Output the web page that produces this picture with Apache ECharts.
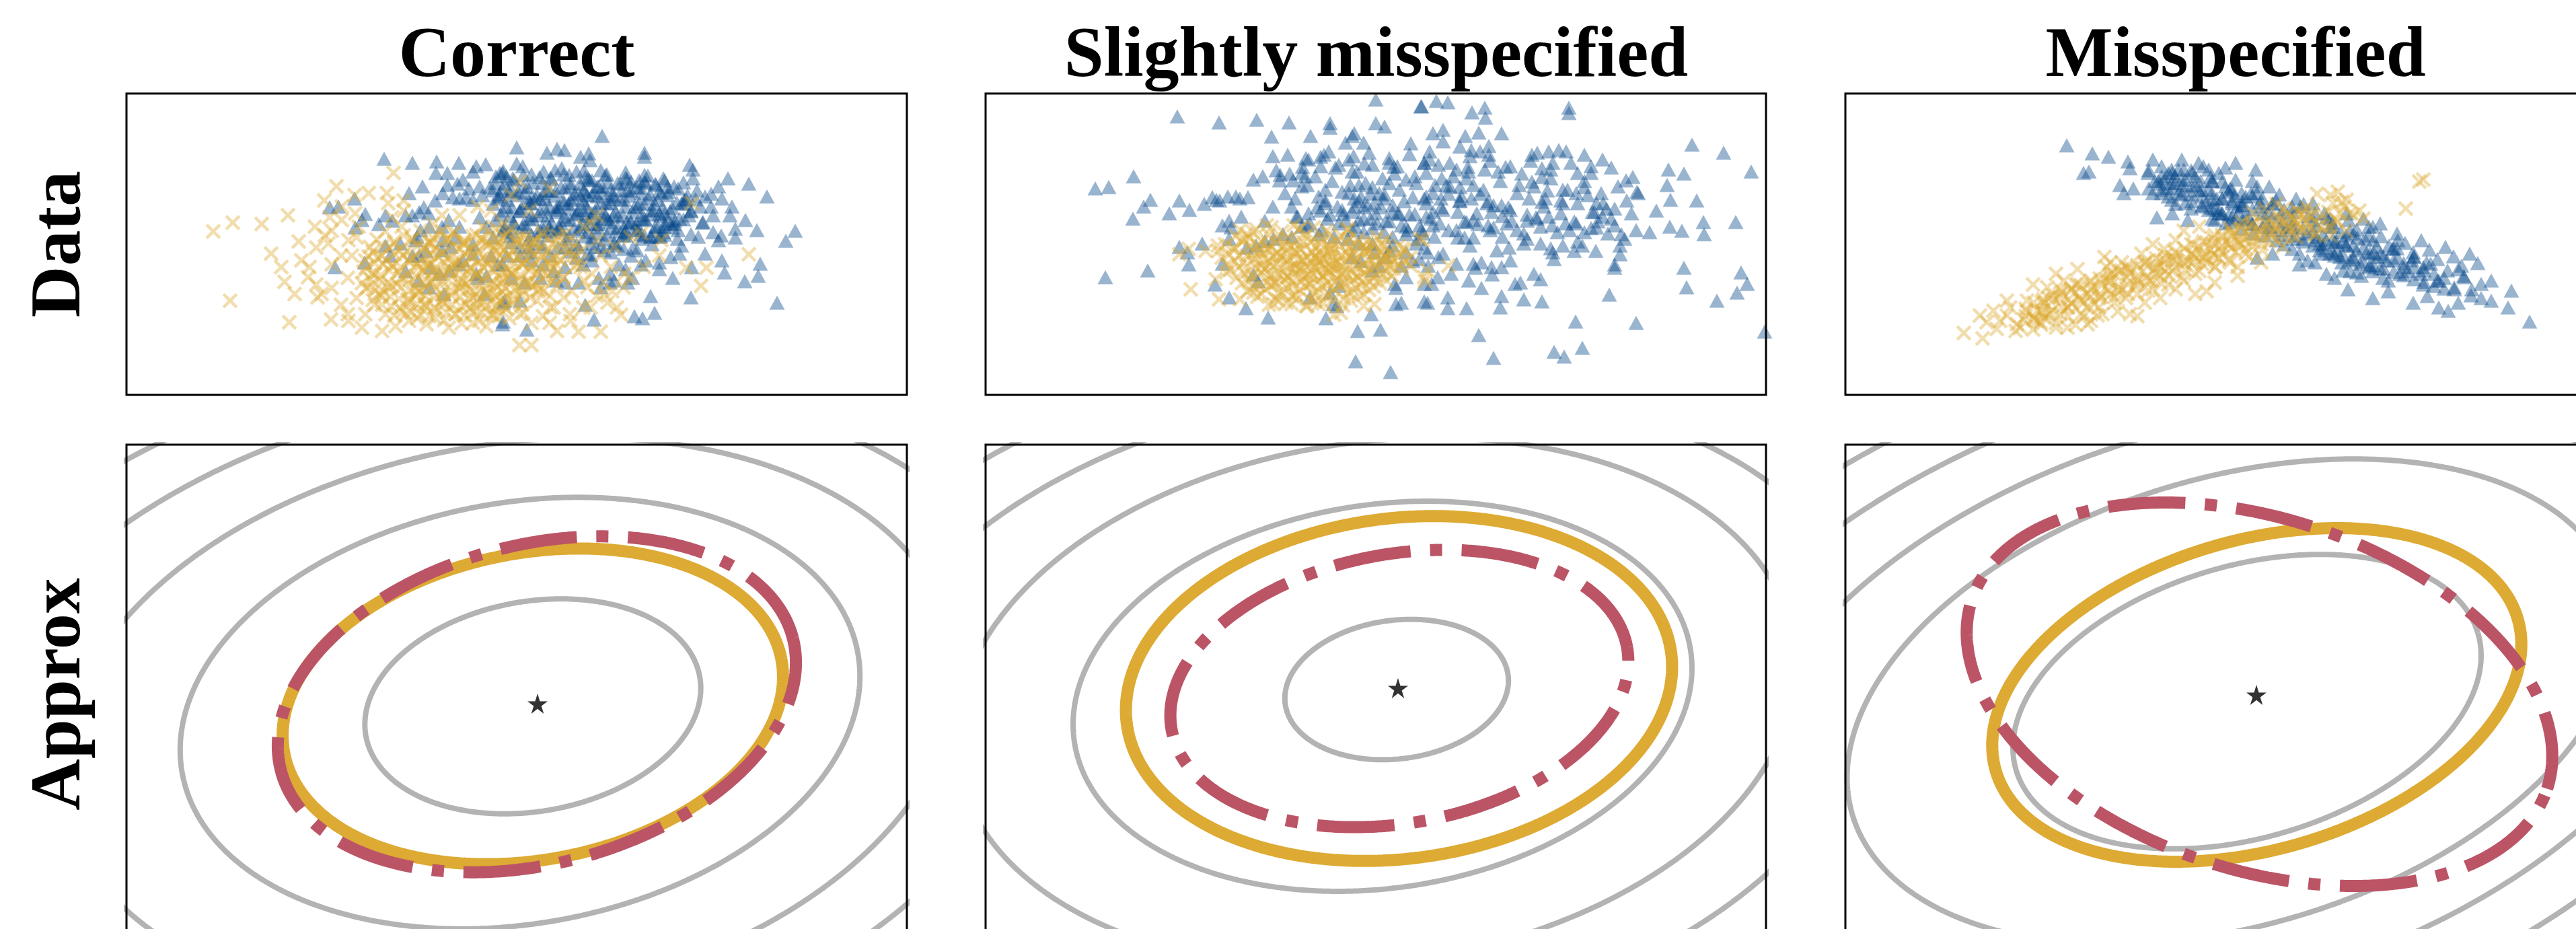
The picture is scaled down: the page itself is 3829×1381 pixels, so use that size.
<!DOCTYPE html>
<html><head><meta charset="utf-8">
<script src="https://cdn.jsdelivr.net/npm/echarts@6/dist/echarts.min.js"></script>
<style>html,body{margin:0;padding:0;background:#fff}#c{width:3829px;height:1381px}</style>
</head><body><div id="c"></div>
<script>
// ---------------- text ----------------
const columnTitles = ['Correct', 'Slightly misspecified', 'Misspecified'];
const rowTitles = ['Data', 'Approx'];

// ---------------- top row: data scatter (x, y in panel units) ----------------
const correctBlue = [
[383,351],[425,345],[461,347],[494,345],[515,332],[534,343],[477,330],[492,314],[477,312],[555,330],[549,325],[509,307],[525,310],[485,294],[495,292],[515,290],[459,289],[442,279],[435,272],[425,267],[415,267],[449,270],[479,260],[495,250],[469,250],[437,245],[432,235],[430,230],[505,294],[529,297],[545,304],[555,295],[339,292],[302,279],[315,280],[355,269],[350,260],[340,249],[385,267],[375,254],[395,259],[385,222],[392,207],[407,225],[425,207],[435,207],[415,184],[434,170],[452,189],[465,180],[450,160],[472,150],[494,194],[515,224],[525,264],[535,250],[545,234],[535,177],[522,174],[552,194],[532,150],[560,137],[559,105],[310,190],[354,197],[445,214],[469,215],[482,220],[489,234],[515,210],[542,207],
[707,385],[580,368],[625,360],[640,366],[651,364],[675,354],[687,359],[689,349],[580,344],[589,340],[705,334],[770,360],[770,354],[837,342],[842,335],[842,322],[894,322],[925,314],[952,295],[559,330],[565,325],[614,324],[637,334],[647,337],[669,332],[682,324],[692,319],[734,314],[750,317],[762,319],[770,317],[787,312],[804,309],[795,300],[829,290],[829,284],[839,274],[869,299],[885,292],[869,280],[872,267],[897,267],[857,257],[872,242],[884,237],[850,235],[839,239],[905,247],[905,234],[937,245],[980,229],[994,244],[785,284],[792,269],[805,259],[815,259],[799,250],[765,267],[749,257],[759,245],[739,250],[725,295],[709,300],[672,300],[685,297],[649,290],[629,304],[615,292],[592,300],[602,294],[572,304],[559,307],[565,280],[585,274],[602,267],[622,277],[639,275],[659,277],[679,275],[692,270],[712,267],[719,257],[699,254],[679,254],[665,247],[645,247],[629,250],[612,244],[595,250],[575,257],[562,247],[742,237],[765,239],[779,235],[792,235],[819,232],[825,222],[822,210],[809,205],[792,197],[772,200],[759,215],[739,217],[725,227],[705,220],[685,210],[669,204],[679,194],[692,200],[652,190],[635,184],[619,194],[602,200],[585,207],[565,207],[559,194],[572,174],[592,167],[615,174],[639,170],[652,167],[672,167],[702,174],[719,180],[732,194],[742,187],[752,174],[745,167],[719,167],[705,160],[792,187],[812,174],[779,147],[839,145],[885,200],[889,182],[919,169],[939,177],[942,195],[967,137],[785,122],[755,117],[767,114],[682,134],[695,112],[595,97],[560,109],[562,140],[585,140],[725,170],[765,194],[692,234],[672,220],[652,220],[619,220],[599,220],[572,227],
[640,280],[660,290],[680,285],[700,295],[720,285],[740,290],[760,280],[780,275],[800,270],[650,265],[670,270],[690,262],[710,270],[730,265],[750,258],[770,262],[790,250],[810,255],[700,310],[720,305],[680,305],[660,310],[745,305],[765,300],[625,255],[640,245],[700,240],[720,248],[740,240],[760,245],[780,235],[800,238],[820,245],[690,225],[710,215],[730,222],[620,300],[600,285],
[560,333],[590,327],[620,332],[650,328],[680,334],[712,327],[742,331],[775,326],
[548,315],[576,320],[604,316],[632,321],[660,315],[688,320],[716,316],[744,321],[772,315],[800,319],[828,316],
[540,308],[568,303],[596,309],[624,304],[652,308],[680,303],[708,309],[736,304],[764,308],[792,303],[820,307],[848,304],
[552,292],[580,297],[608,291],[636,296],[664,292],[692,297],[720,291],[748,296],[776,292],[804,297],[832,291],[860,295],
[545,284],[573,279],[601,285],[629,280],[657,284],[685,279],[713,285],[741,280],[769,284],[797,279],[825,285],[853,280],
[556,268],[584,273],[612,267],[640,272],[668,268],[696,273],[724,267],[752,272],[780,268],[808,273],[836,267],
[548,260],[576,255],[604,261],[632,256],[660,260],[688,255],[716,261],[744,256],[772,260],[800,255],[828,261],[856,256],
[560,244],[588,249],[616,243],[644,248],[672,244],[700,249],[728,243],[756,248],[784,244],[812,249],
[570,236],[598,231],[626,237],[654,232],[682,236],[710,231],[738,237],[766,232],[794,236],
[585,220],[613,225],[641,219],[669,224],[697,220],[725,225],[753,219],[781,224],
[600,212],[630,207],[660,213],[690,208],[720,212],[750,207],
[470,300],[500,320],[520,340],[460,330],[440,310],[420,300],[880,310],[900,280],[920,260],[880,230],[860,210],[840,190],[500,200],[480,185],[520,180],[470,230],[450,250],
[574,322],[602,328],[630,323],[658,327],[686,322],[714,328],[742,323],[770,327],[798,322],
[562,314],[590,310],[618,315],[646,309],[674,314],[702,310],[730,315],[758,309],[786,314],[814,310],
[554,298],[582,302],[610,297],[638,303],[666,298],[694,302],[722,297],[750,303],[778,298],[806,302],[834,297],
[566,290],[594,286],[622,291],[650,285],[678,290],[706,286],[734,291],[762,285],[790,290],[818,286],[846,291],
[559,274],[587,278],[615,273],[643,279],[671,274],[699,278],[727,273],[755,279],[783,274],[811,278],[839,273],
[570,266],[598,262],[626,267],[654,261],[682,266],[710,262],[738,267],[766,261],[794,266],[822,262],
[562,250],[590,254],[618,249],[646,255],[674,250],[702,254],[730,249],[758,255],[786,250],[814,254],
[574,242],[602,238],[630,243],[658,237],[686,242],[714,238],[742,243],[770,237],[798,242]
];
const correctGold = [
[129,243],[158,256],[201,254],[240,267],[235,168],[154,140],[242,108],[256,228],[272,190],[282,219],[295,237],[305,244],[312,310],[294,289],[302,264],[339,297],[340,270],[397,330],[387,300],[389,285],[412,289],[412,274],[395,264],[409,250],[282,164],[284,145],[305,159],[319,134],[304,112],[329,120],[342,144],[359,160],[369,180],[355,200],[335,207],[319,207],[305,194],[342,234],[362,220],[379,207],[395,194],[409,174],[389,160],[375,150],[369,134],[385,120],[400,102],[415,120],[422,140],[435,154],[449,167],[462,180],[452,194],[435,190],[419,200],[442,220],[455,234],[469,244],[485,240],[502,230],[519,220],[535,227],[549,214],[535,200],[512,190],[495,200],[482,187],[499,167],[515,154],[532,140],[505,134],[489,120],[479,100],[459,114],[469,140],[442,134],[432,114],[515,107],[535,102],[545,120],[552,147],[555,174],[549,247],[529,250],[522,280],[542,274],[469,267],[455,254],[495,267],[329,174],[355,120],
[585,317],[629,307],[572,297],[599,274],[559,254],[572,247],[585,234],[602,227],[619,237],[639,230],[652,240],[669,227],[692,254],[699,267],[725,220],[705,207],[749,234],[765,240],[795,230],[769,190],[792,207],[832,189],[862,189],[854,162],[925,209],[840,285],[555,220],[569,207],[589,194],[609,200],[629,194],[645,200],[662,207],[675,190],[692,180],[709,167],[722,154],[739,160],[749,174],[572,180],[592,167],[612,154],[629,147],[635,130],[619,117],[602,107],[585,120],[569,114],[659,120],[679,130],[672,94],[705,94],[729,130],[735,119],[584,74],[602,74],[629,107],[649,174],[662,154],[559,154],[552,134],[685,160],[699,147],[715,137],
[450,200],[470,210],[490,195],[510,205],[530,190],[550,200],[570,185],[590,195],[610,180],[630,190],[650,175],[460,175],[480,185],[500,170],[520,178],[540,165],[560,172],[580,160],[600,168],[620,155],[640,162],[470,150],[495,158],[515,145],[535,152],[555,140],[575,148],[440,185],[430,160],[445,135],[600,215],[620,225],[580,228],[560,235],[540,225],[520,238],[500,225],[480,230],[660,215],[670,195],[680,170],[455,225],[610,140],[630,130],[650,145],[520,125],[545,118],[565,128],[590,122],
[385,243],[412,237],[437,244],[463,238],[488,242],[514,236],[538,244],[566,239],[592,235],[618,242],[641,237],
[372,231],[398,225],[425,230],[451,226],[477,232],[503,224],[529,229],[554,233],[581,226],[607,230],[633,224],[657,229],
[366,213],[391,219],[417,214],[444,218],[469,212],[495,217],[522,213],[547,219],[573,214],[599,218],[626,212],[651,217],[676,214],
[360,206],[386,201],[411,207],[437,202],[463,206],[489,200],[515,205],[541,201],[567,207],[592,202],[618,206],[644,201],[669,205],
[356,189],[382,194],[408,190],[433,195],[459,189],[485,193],[511,188],[537,194],[563,190],[588,195],[614,189],[640,193],[666,190],
[352,183],[378,178],[404,182],[430,177],[456,183],[481,179],[507,184],[533,177],[559,182],[585,178],[611,183],[636,177],
[350,166],[376,171],[402,165],[428,170],[454,167],[479,171],[505,165],[531,170],[557,166],[583,171],[609,165],[634,169],
[356,158],[382,153],[408,159],[433,154],[459,158],[485,153],[511,157],[537,152],[563,158],[589,154],[614,157],
[366,141],[392,146],[418,142],[444,147],[470,141],[496,146],[522,142],[548,147],[574,141],[600,145],
[380,134],[406,129],[432,135],[458,130],[484,134],[510,129],[536,133],[562,130],[588,134],
[398,118],[424,123],[450,117],[476,122],[502,118],[528,123],[554,117],
[420,110],[446,105],[472,111],[498,106],[524,110],
[280,250],[300,225],[320,260],[260,200],[270,175],[290,150],[320,280],[345,250],[330,230],[360,300],[250,150],[230,190],[215,210],[680,250],[700,230],[720,190],[710,150],[690,130],[740,180],[660,110],[640,95],[380,95],[350,100],[330,110],
[398,228],[424,233],[450,227],[476,232],[502,228],[528,233],[554,227],[580,232],[606,228],
[380,220],[406,215],[432,221],[458,216],[484,220],[510,215],[536,221],[562,216],[588,220],[614,215],[640,221],
[373,204],[399,209],[425,203],[451,208],[477,204],[503,209],[529,203],[555,208],[581,204],[607,209],[633,203],
[369,196],[395,191],[421,197],[447,192],[473,196],[499,191],[525,197],[551,192],[577,196],[603,191],[629,197],
[365,180],[391,185],[417,179],[443,184],[469,180],[495,185],[521,179],[547,184],[573,180],[599,185],[625,179],
[363,172],[389,167],[415,173],[441,168],[467,172],[493,167],[519,173],[545,168],[571,172],[597,167],[623,173],
[369,156],[395,161],[421,155],[447,160],[473,156],[499,161],[525,155],[551,160],[577,156],[603,161],
[379,148],[405,143],[431,149],[457,144],[483,148],[509,143],[535,149],[561,144],[587,148],
[393,132],[419,137],[445,131],[471,136],[497,132],[523,137],[549,131],[575,136],
[411,124],[437,119],[463,125],[489,120],[515,124],[541,119]
];
const slightBlue = [
[285,414],[347,405],[403,409],[451,405],[580,439],[647,429],[512,404],[512,397],[425,384],[483,385],[545,385],[548,389],[535,375],[562,375],[580,404],[593,399],[632,374],[427,355],[449,357],[476,352],[498,354],[503,357],[525,342],[498,340],[471,339],[547,355],[563,344],[575,342],[600,352],[607,339],[608,329],[652,345],[545,332],[552,332],[625,320],[638,325],[432,334],[438,327],[452,329],[457,319],[437,319],[412,325],[398,320],[475,325],[478,312],[542,312],[555,312],[575,309],[600,315],[530,302],[495,295],[505,289],[493,279],[498,274],[523,280],[548,292],[558,295],[572,299],[585,300],[592,292],[635,294],[652,292],[532,269],[545,272],[562,279],[568,282],[578,285],[588,279],[605,272],[615,269],[638,269],[508,262],[535,259],[555,260],[572,262],[582,255],[595,259],[618,252],[628,245],[645,252],[545,245],[562,242],[592,242],[605,235],[625,239],[642,232],[555,225],[575,225],[605,222],[538,232],[518,235],[495,239],[478,252],[462,265],[455,235],[442,239],[428,232],[415,229],[402,222],[388,219],[372,295],[360,295],[378,292],[390,294],[337,294],[348,289],[325,284],[343,290],[288,289],[303,275],[273,270],[245,290],[235,280],[220,325],[219,262],[183,309],[163,307],[427,280],[380,265],[415,259],[362,259],[352,252],[365,249],[362,232],[464,265],[482,255],[288,220],[300,212],[322,225],[302,194],[352,195],[241,185],[178,175],[341,164],[362,145],[387,129],[420,115],[506,114],[553,95],[587,97],[573,120],[610,135],[618,137],[610,159],[608,165],[625,175],[635,199],[645,202],[595,205],[585,192],[575,185],[618,192],[550,50],[602,34],[517,135],[522,132],[482,145],[512,152],[525,162],[398,179],[405,169],[545,205],[558,199],[578,212],[625,212],[652,139],[652,165],
[648,429],[670,437],[687,435],[723,420],[742,427],[743,412],[867,427],[867,419],[665,389],[680,394],[680,377],[713,385],[733,390],[705,369],[722,364],[735,362],[748,370],[748,357],[767,389],[660,362],[652,345],[673,342],[717,339],[742,335],[718,332],[773,339],[797,329],[812,357],[837,362],[852,364],[863,362],[890,357],[917,350],[900,340],[843,345],[827,337],[812,317],[827,324],[835,304],[808,292],[827,287],[858,305],[858,285],[855,289],[890,309],[895,297],[908,285],[902,272],[917,265],[923,277],[935,277],[935,252],[945,239],[950,232],[943,222],[943,209],[935,194],[935,189],[952,319],[962,324],[968,302],[970,300],[953,289],[997,274],[967,245],[987,242],[1015,335],[1038,329],[1013,312],[1018,290],[1050,372],[1097,360],[1138,332],[1057,289],[1067,257],[1068,239],[1115,257],[1017,250],[1035,244],[1038,189],[1042,160],[1123,182],[1132,165],[1117,152],[1087,140],[927,149],[877,109],[967,107],[887,70],[845,64],[860,57],[755,55],[733,89],[765,130],[715,129],[687,129],[687,145],[657,137],[718,170],[737,159],[767,147],[800,142],[827,139],[825,172],[815,180],[795,167],[787,165],[753,179],[752,190],[767,190],[737,197],[725,195],[728,189],[692,180],[672,175],[663,165],[658,192],[673,205],[657,212],[652,219],[667,235],[688,245],[702,234],[712,234],[725,234],[732,254],[715,257],[747,252],[755,249],[768,235],[778,219],[790,245],[805,232],[825,225],[843,212],[845,202],[858,222],[875,214],[887,222],[907,214],[862,255],[878,255],[890,242],[908,249],[842,252],[818,264],[837,265],[805,259],[782,259],[777,279],[767,282],[745,285],[752,272],[735,299],[722,292],[705,289],[702,272],[688,299],[677,292],[685,312],[678,322],[695,325],[705,309],[725,312],[655,295],[655,265],[665,272],[665,252],[648,245],[677,279],[1158,94],
[445,300],[470,310],[490,325],[515,318],[540,300],[565,315],[590,322],[615,305],[640,315],[665,300],[690,310],[715,322],[740,305],[765,318],[790,300],[815,310],[840,322],[865,305],[890,318],[915,300],[940,310],
[455,280],[480,270],[505,285],[530,275],[555,288],[580,270],[605,282],[630,268],[655,285],[680,275],[705,288],[730,270],[755,282],[780,275],[805,268],[830,280],[855,270],[880,285],[905,272],[930,262],[960,270],
[470,250],[500,245],[525,255],[550,250],[575,248],[600,258],[625,250],[650,240],[675,255],[700,245],[725,260],[750,245],[775,255],[800,240],[825,250],[850,242],[875,258],[900,248],[925,240],
[480,350],[510,362],[540,350],[570,360],[600,345],[630,358],[660,350],[690,345],[720,355],[750,348],[780,340],[810,348],[840,335],[870,345],[900,330],[930,338],
[600,215],[640,225],[680,210],[720,222],[760,215],[800,225],[840,218],[880,228],[700,195],[780,200],
[460,292],[505,305],[548,280],[593,298],[622,288],[668,312],[707,296],[748,288],[793,312],[832,292],[878,300],[918,285],[470,330],[520,338],[612,340],[655,330],[700,335],[762,332],[820,360],[880,330],[512,268],[562,262],[613,270],[662,262],[712,258],[768,266],[820,262],[868,245],[910,258]
];
const slightGold = [
[288,209],[302,217],[327,214],[345,222],[305,157],[347,142],[342,172],[358,182],[378,245],[388,239],[398,242],[418,252],[425,249],[458,252],[465,245],[488,249],[512,239],[538,245],[575,219],[592,199],[612,205],[632,192],[652,175],[645,232],[578,135],[562,132],[528,122],[518,119],[428,135],[455,135],[478,132],[495,135],[378,142],[398,152],[650,230],[688,192],[657,185],[653,169],
[402,246],[441,243],[468,248],[507,244],[538,247],
[372,236],[393,233],[421,238],[447,232],[476,237],[499,233],[529,236],[553,231],[582,235],
[356,224],[381,228],[404,222],[432,226],[454,221],[483,227],[509,222],[536,226],[561,221],[589,225],[614,222],
[346,214],[371,217],[399,212],[421,216],[448,211],[469,216],[496,213],[519,217],[547,212],[570,215],[599,211],[624,216],
[351,204],[377,207],[400,202],[427,206],[451,201],[479,205],[502,202],[529,207],[552,203],[581,206],[605,201],[631,204],
[359,194],[383,197],[410,192],[433,196],[461,193],[484,197],[512,192],[535,196],[563,193],[587,197],[615,193],
[364,186],[391,183],[415,187],[442,182],[466,186],[493,183],[517,187],[544,182],[568,186],[596,183],[619,187],
[373,174],[397,177],[424,172],[448,176],[473,173],[501,177],[524,172],[552,176],[576,173],[604,177],
[381,166],[405,163],[432,167],[456,162],[483,166],[507,163],[534,167],[558,162],[586,166],
[389,154],[416,157],[440,152],[467,156],[491,153],[518,157],[542,152],[570,156],
[404,146],[431,143],[455,147],[482,142],[506,146],[533,143],[556,147],
[421,134],[447,137],[476,132],[502,136],[531,133],
[470,200],[490,190],[510,185],[480,178],[500,208],[520,195],[460,188],[530,180],[495,198],[515,205],
[385,231],[410,228],[435,232],[462,229],[488,231],[515,227],[541,232],[567,228],[595,231],
[368,219],[393,221],[418,217],[443,220],[466,218],[491,221],[514,217],[541,220],[566,218],[592,221],[620,218],
[362,209],[388,207],[413,210],[438,208],[463,211],[490,207],[515,210],[540,208],[566,211],[593,207],[618,209],
[370,199],[396,201],[421,198],[447,200],[472,199],[497,201],[523,198],[548,200],[575,199],[600,201],[625,198],
[377,190],[403,188],[428,191],[454,189],[479,190],[505,188],[530,191],[556,189],[581,190],[607,188],
[385,180],[410,182],[436,179],[461,181],[487,180],[512,182],[538,179],[563,181],[590,180],
[392,170],[418,168],[444,171],[469,169],[495,170],[520,168],[546,171],[571,169],[596,170],
[398,160],[424,162],[449,159],[475,161],[500,160],[526,162],[551,159],[577,161],
[410,150],[436,152],[461,149],[487,151],[512,150],[538,152],[562,149],
[436,140],[462,142],[490,139],[516,141],[543,140],
[420,226],[446,223],[472,227],[498,224],[524,228],[550,223],[576,226],
[407,214],[433,211],[459,215],[485,212],[511,216],[537,211],[563,214],[589,212],
[412,202],[438,205],[464,201],[490,204],[516,200],[542,205],[568,201],[594,204],
[418,190],[444,193],[470,189],[496,192],[522,188],[548,193],[574,189],[600,192],
[424,178],[450,175],[476,179],[502,176],[528,180],[554,175],[580,178],
[430,166],[456,169],[482,165],[508,168],[534,164],[560,169]
];
const misBlue = [
[329,371],[367,359],[391,354],[420,347],[423,337],[457,350],[451,334],[354,330],[362,332],[408,312],[414,300],[428,307],[451,307],[468,314],[486,330],[503,335],[514,334],[532,340],[457,300],[486,307],[503,304],[526,304],[543,324],[560,317],[572,307],[589,300],[612,310],[612,300],[491,284],[514,277],[486,270],[463,264],[509,260],[537,287],[549,277],[560,270],[583,280],[595,264],[549,260],[572,257],[618,280],[635,284],[647,270],[664,280],[681,284],[698,270],[715,264],[721,250],[750,244],[744,224],[761,234],[778,250],[778,237],[790,220],[796,210],[821,230],[813,217],[821,204],[842,200],[864,197],[859,190],[836,184],[824,180],[807,170],[799,174],[784,184],[778,190],[767,177],[750,184],[738,197],[727,207],[710,210],[698,197],[715,180],[727,174],[687,200],[675,210],[664,217],[652,224],[641,230],[624,237],[606,240],[589,247],[669,237],[687,240],[698,230],[710,224],[727,227],[744,237],[911,187],[919,177],[882,170],[859,164],[747,157],[784,144],[807,154],[844,137],[865,147],[882,130],[896,125],[911,137],[905,157],[931,157],[945,144],[1017,109],[675,194],[635,210],[612,204],[664,250],[647,250],[624,257],
[460,318],[475,322],[490,315],[505,320],[470,305],[495,300],[480,330],[520,312],
[530,295],[545,290],[560,292],[575,285],[590,288],[540,275],[555,270],[570,268],[585,272],[600,262],[545,262],[565,255],
[700,235],[715,230],[730,228],[745,222],[760,215],[775,212],[790,205],[705,215],[720,210],[735,205],[750,200],[765,195],[780,192],[795,188],[740,185],[760,182],
[450,330],[465,318],[478,308],[490,325],[502,312],[515,298],[528,318],[540,305],[552,292],[565,310],[578,296],[590,282],[603,300],[616,286],[628,272],[640,290],[652,276],[664,262],[676,280],[688,266],[700,252],[712,270],[724,256],[736,242],[748,260],[760,246],[772,232],[784,250],[796,236],[808,222],[820,240],[832,226],[844,212],[856,230],[868,216],[880,202],[892,220],[904,206],[916,192],[928,210],[940,196],
[470,340],[495,335],[520,325],[545,318],[570,302],[595,295],[620,292],[645,298],[670,292],[695,285],[720,262],[745,270],[770,262],[795,255],[820,218],[845,205],[870,195],[895,185],[920,175],[945,165],
[480,295],[505,285],[530,280],[555,275],[580,262],[605,255],[630,250],[655,245],[680,232],[705,225],[730,215],[755,205],[780,210],[805,200],[830,190],[855,180],[880,170],[905,160],[930,148],[960,140],[985,130],[960,170],[990,155],
[555,330],[580,320],[605,318],[630,310],[580,345],[610,335],[500,350],[525,345],[540,335],[565,338],
[470,325],[470,300],[485,315],[485,290],[485,335],[500,320],[500,298],[515,310],[515,288],[515,330],[530,305],[530,282],[545,300],[545,278],[545,318],[560,292],[560,270],[575,288],[575,265],[575,305],[590,282],[590,260],[605,276],[605,254],[605,295],[620,270],[620,250],[635,265],[635,245],[635,285],[650,258],[650,238],[665,254],[665,232],[665,272],[680,248],[680,228],[695,243],[695,222],[695,260],[710,238],[710,218],[725,232],[725,212],[725,250],[740,228],[740,208],[755,222],[755,202],[755,240],[770,218],[770,198],[785,212],[785,193],[785,230],[800,206],[800,188],[815,200],[815,183],[815,218],[830,196],[830,178],[845,190],[845,172],[845,206],[860,185],[860,168],[875,180],[875,162],[890,174],[890,158]
];
const misGold = [
[176,92],[204,84],[253,95],[279,164],[313,180],[345,187],[385,205],[394,197],[270,124],[285,110],[313,107],[296,137],[319,150],[331,130],[348,144],[365,157],[382,164],[400,180],[417,190],[440,210],[457,224],[474,217],[491,230],[503,244],[526,250],[549,237],[572,247],[589,257],[606,270],[623,277],[641,284],[652,277],[664,264],[681,270],[698,257],[715,250],[732,257],[750,270],[764,274],[738,287],[721,297],[701,299],[732,302],[833,277],[859,320],[853,317],[291,124],[336,137],[359,130],[377,144],[394,150],[411,157],[434,164],[451,170],[468,177],[486,184],[503,197],[520,204],[537,210],[555,217],[572,224],[583,230],[600,237],[618,244],[635,250],[652,257],[669,250],[687,244],[698,237],[721,237],[744,244],[664,237],[641,230],[618,224],[595,210],[572,197],[549,190],[526,184],[503,170],[480,164],[457,157],[434,150],[417,144],[400,137],[377,130],[354,117],[331,117],[302,120],[268,117],[423,120],[434,117],[520,150],[537,154],[549,167],[583,177],[423,180],[445,197],[463,190],[486,200],[514,224],[537,227],[560,234],[578,240],[606,254],[595,217],[618,197],[583,190],[394,170],[365,170],[342,164],[319,157],[302,144],[468,200],[411,197],[388,190],[514,210],[537,197],[555,204],[491,157],[468,144],[445,137],[405,124],[382,120],[365,110],[342,104],[291,104],[279,97],[313,100],
[210,108],[225,98],[240,118],[255,105],[268,128],[280,112],[292,138],[305,122],[318,145],[330,130],[342,152],[355,138],[368,160],[380,146],[392,168],[405,155],[418,175],[430,162],[442,184],[455,170],[468,192],[480,178],[492,200],[505,186],[518,208],[530,195],[542,216],[555,203],[568,224],[580,212],[592,232],[605,220],[618,240],[630,228],[642,250],[655,236],[668,258],[680,245],[692,266],[705,252],[718,272],[730,260],[742,280],[755,268],
[220,125],[245,130],[270,140],[295,115],[320,120],[345,165],[370,135],[395,180],[420,150],[445,195],[470,165],[495,210],[520,180],[545,225],[570,200],[595,245],[620,215],[645,260],[670,235],[695,275],[720,250],[745,290],[770,262],
[260,100],[285,125],[310,142],[335,155],[360,150],[385,172],[410,185],[435,172],[460,188],[485,205],[510,200],[535,205],[560,222],[585,225],[610,238],[635,242],[660,252],[685,255],[710,268],[735,270],
[300,160],[325,170],[350,120],[375,118],[400,145],[425,188],[450,155],[475,200],[500,175],[525,220],[550,190],[575,238],[600,205],[625,255],[650,220],[675,270],[700,240],[725,285],
[200,118],[230,110],[265,112],[290,108],[240,140],[330,100],[360,105],
[280,115],[280,137],[294,121],[294,142],[308,126],[308,148],[322,131],[322,153],[336,136],[336,158],[350,140],[350,163],[364,146],[364,168],[378,150],[378,173],[392,156],[392,178],[406,160],[406,183],[420,164],[420,188],[434,170],[434,193],[448,174],[448,198],[462,180],[462,203],[476,184],[476,208],[490,190],[490,212],[504,194],[504,218],[518,198],[518,223],[532,204],[532,228],[546,208],[546,233],[560,214],[560,238],[574,218],[574,242],[588,224],[588,248],[602,228],[602,252],[616,234],[616,256],[630,238],[630,260],[644,244],[644,266],[658,248],[658,270],[672,254],[672,274],[686,258],[686,278]
];

// ---------------- bottom row: ellipses [cx, cy, semi-major, semi-minor, angle in degrees] ----------------
const correctContours = [[604,353,252,156,10],[585,343,510,313,10],[568,329,672,413,10],[547,317,810,498,10],[527,303,930,572,10]];
const correctGoldEllipse = [604,353,376,228,10.65];
const correctRedEllipse = [610,356,393,237,14.5];
const slightContours = [[611,378,167,103,7.3],[590,368,463,285,8.4],[580,359,628,387,8],[558,344,768,474,8],[540,333,886,547,8]];
const slightGoldEllipse = [614.5,379.5,408,253,7.4];
const slightRedEllipse = [615,379.5,344,200,10.25];
const misContours = [[597,360,358,202,16.55],[576,360,590,333,16.55],[560,353,737,416,16.55],[540,343,872,492,16.55],[520,333,988,557,16.55]];
const misGoldEllipse = [611.5,370,404,230,16.2];
const misRedEllipse = [615.5,371,450,261,-18.2];
const starPoints = [[611,357],[613,380],[611,370]];

// ---------------- build ----------------
const BLUE = '#004488', GOLD = '#DDAA33', RED = '#BB5566', GRAY = '#b3b3b3';
const xPath = 'path://M0,1.4L1.4,0L5,3.6L8.6,0L10,1.4L6.4,5L10,8.6L8.6,10L5,6.4L1.4,10L0,8.6L3.6,5Z';
const starPath = 'path://M50,0L61.2,34.6L97.6,34.5L68.1,55.9L79.4,90.5L50,69L20.6,90.5L31.9,55.9L2.4,34.5L38.8,34.6Z';

function ellipsePts(p) {
  const [cx, cy, a, b, deg] = p;
  const t = deg * Math.PI / 180, c = Math.cos(t), s = Math.sin(t);
  const pts = [];
  for (let i = 0; i <= 720; i++) {
    const u = i * Math.PI / 360;
    const x = a * Math.cos(u), y = b * Math.sin(u);
    pts.push([cx + x * c - y * s, cy + x * s + y * c]);
  }
  return pts;
}

const lefts = [188, 1465, 2743];
const grids = [], xAxes = [], yAxes = [], series = [];
for (let r = 0; r < 2; r++) {
  for (let k = 0; k < 3; k++) {
    const gi = r * 3 + k;
    grids.push({ left: lefts[k], top: r === 0 ? 139 : 661, width: 1160, height: r === 0 ? 448 : 742,
      outerBoundsMode: 'none', containLabel: false,
      show: true, borderColor: '#000', borderWidth: 3, backgroundColor: 'transparent', z: 10 });
    xAxes.push({ gridIndex: gi, type: 'value', min: 0, max: 1160, show: false });
    yAxes.push({ gridIndex: gi, type: 'value', min: 0, max: r === 0 ? 448 : 742, show: false });
  }
}
const blueSets = [correctBlue, slightBlue, misBlue];
const goldSets = [correctGold, slightGold, misGold];
for (let k = 0; k < 3; k++) {
  series.push({ type: 'scatter', xAxisIndex: k, yAxisIndex: k, data: blueSets[k], symbol: 'triangle', symbolSize: [23, 21],
    itemStyle: { color: BLUE, opacity: 0.4 }, silent: true, z: 2 });
  series.push({ type: 'scatter', xAxisIndex: k, yAxisIndex: k, data: goldSets[k], symbol: xPath, symbolSize: 23,
    itemStyle: { color: GOLD, opacity: 0.4 }, silent: true, z: 3 });
}
const contourSets = [correctContours, slightContours, misContours];
const goldEll = [correctGoldEllipse, slightGoldEllipse, misGoldEllipse];
const redEll = [correctRedEllipse, slightRedEllipse, misRedEllipse];
for (let k = 0; k < 3; k++) {
  const gi = 3 + k;
  contourSets[k].forEach(p => series.push({ type: 'line', xAxisIndex: gi, yAxisIndex: gi, data: ellipsePts(p),
    showSymbol: false, symbol: 'none', lineStyle: { color: GRAY, width: 8 }, silent: true, z: 2, clip: true }));
  series.push({ type: 'line', xAxisIndex: gi, yAxisIndex: gi, data: ellipsePts(goldEll[k]), showSymbol: false, symbol: 'none',
    lineStyle: { color: GOLD, width: 18 }, silent: true, z: 3, clip: true });
  series.push({ type: 'line', xAxisIndex: gi, yAxisIndex: gi, data: ellipsePts(redEll[k]), showSymbol: false, symbol: 'none',
    lineStyle: { color: RED, width: 18, type: [115, 29, 18, 29], cap: 'butt' }, silent: true, z: 4, clip: true });
  series.push({ type: 'scatter', xAxisIndex: gi, yAxisIndex: gi, data: [starPoints[k]], symbol: starPath, symbolSize: 30,
    itemStyle: { color: '#000' }, silent: true, z: 5 });
}

const font = { fontFamily: '"Liberation Serif", "DejaVu Serif", serif', fontWeight: 'bold', fontSize: 106, fill: '#000' };
const graphic = [];
const centers = [768, 2045.5, 3323];
columnTitles.forEach((t, k) => graphic.push({ type: 'text', x: centers[k], y: 86,
  style: Object.assign({ text: t, align: 'center', verticalAlign: 'middle' }, font) }));
const rowCenters = [363, 1032];
rowTitles.forEach((t, r) => graphic.push({ type: 'text', x: 91, y: rowCenters[r], rotation: Math.PI / 2,
  style: Object.assign({ text: t, align: 'center', verticalAlign: 'middle' }, font) }));

const chart = echarts.init(document.getElementById('c'), null, { renderer: 'canvas', width: 3829, height: 1381 });
chart.setOption({ animation: false, backgroundColor: '#fff', grid: grids, xAxis: xAxes, yAxis: yAxes, series: series, graphic: graphic });
</script></body></html>
